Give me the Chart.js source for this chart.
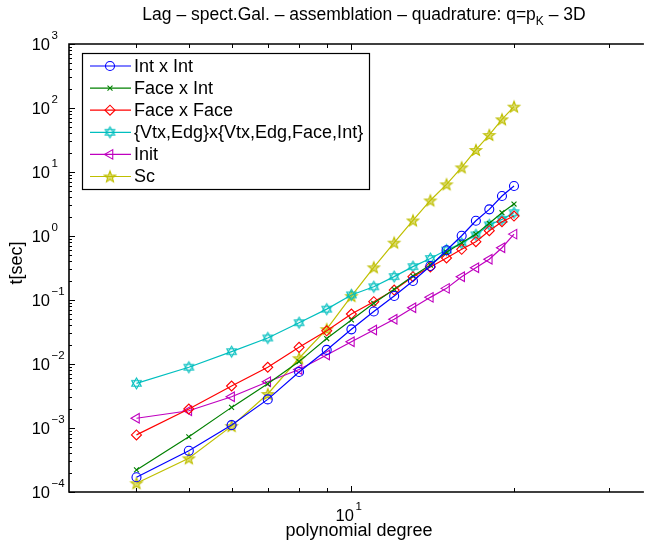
<!DOCTYPE html>
<html>
<head>
<meta charset="utf-8">
<script src="https://cdn.jsdelivr.net/npm/chart.js@4/dist/chart.umd.min.js"></script>
<style>
  html, body { margin: 0; padding: 0; background: #fff; overflow: hidden; }
  #wrap { width: 649px; height: 548px; }
</style>
</head>
<body>
<div id="wrap"><canvas id="timingChart" width="649" height="548"></canvas></div>
<script>
// polynomial degrees (x) and timings in seconds (y)
const degrees = [4, 5, 6, 7, 8, 9, 10, 11, 12, 13, 14, 15, 16, 17, 18, 19, 20];
const intInt = [1.70e-4, 4.4e-4, 1.11e-3, 2.8e-3, 7.5e-3, 1.66e-2, 3.48e-2, 6.6e-2, 0.1155, 0.198, 0.34, 0.60, 1.01, 1.73, 2.61, 4.22, 6.04];
const faceInt = [2.21e-4, 7.3e-4, 2.10e-3, 4.9e-3, 1.09e-2, 2.5e-2, 4.87e-2, 8.9e-2, 0.147, 0.237, 0.352, 0.56, 0.786, 1.07, 1.58, 2.31, 3.16];
const faceFace = [7.8e-4, 1.98e-3, 4.53e-3, 8.9e-3, 1.82e-2, 3.3e-2, 6.04e-2, 9.4e-2, 0.143, 0.231, 0.328, 0.453, 0.619, 0.815, 1.21, 1.67, 2.05];
const vtxEdg = [4.99e-3, 8.9e-3, 1.56e-2, 2.55e-2, 4.42e-2, 7.2e-2, 0.12, 0.161, 0.232, 0.332, 0.445, 0.604, 0.769, 1.04, 1.49, 1.82, 2.31];
const initT = [1.42e-3, 1.86e-3, 3.08e-3, 5.28e-3, 8.2e-3, 1.38e-2, 2.23e-2, 3.4e-2, 4.99e-2, 7.58e-2, 0.110, 0.152, 0.231, 0.320, 0.433, 0.656, 1.07];
const scT = [1.37e-4, 3.36e-4, 1.07e-3, 3.4e-3, 1.23e-2, 3.5e-2, 0.115, 0.324, 0.787, 1.75, 3.59, 6.42, 11.8, 22.1, 37.9, 66.5, 105];

const yDecades = [-4, -3, -2, -1, 0, 1, 2, 3];
const xMinorTicks = [4, 5, 6, 7, 8, 9, 20, 30];
const xMajorTicks = [10];

const FONT = '"Liberation Sans", Arial, Helvetica, sans-serif';

// hexagram marker (two triangles)
function makeHexagram(color, r) {
    const size = Math.ceil(2 * r + 4);
    const c = document.createElement('canvas');
    c.width = size; c.height = size;
    const g = c.getContext('2d');
    const cx = size / 2, cy = size / 2;
    g.strokeStyle = color;
    g.lineWidth = 1.1;
    for (let t = 0; t < 2; t++) {
        g.beginPath();
        for (let i = 0; i < 3; i++) {
            const a = -Math.PI / 2 + t * Math.PI + i * 2 * Math.PI / 3;
            const px = cx + r * Math.cos(a), py = cy + r * Math.sin(a);
            if (i === 0) g.moveTo(px, py); else g.lineTo(px, py);
        }
        g.closePath();
        g.stroke();
    }
    return c;
}

// pentagram marker
function makePentagram(color, r) {
    const size = Math.ceil(2 * r + 4);
    const c = document.createElement('canvas');
    c.width = size; c.height = size;
    const g = c.getContext('2d');
    const cx = size / 2, cy = size / 2 + 0.5;
    g.strokeStyle = color;
    g.fillStyle = color;
    g.lineWidth = 1.1;
    g.beginPath();
    for (let i = 0; i < 10; i++) {
        const rr = i % 2 === 0 ? r : r * 0.42;
        const a = -Math.PI / 2 + i * Math.PI / 5;
        const px = cx + rr * Math.cos(a), py = cy + rr * Math.sin(a);
        if (i === 0) g.moveTo(px, py); else g.lineTo(px, py);
    }
    g.closePath();
    g.globalAlpha = 0.55;
    g.fill();
    g.globalAlpha = 1;
    g.stroke();
    return c;
}

const hexCyan = makeHexagram('#00bfbf', 5.5);
const starYellow = makePentagram('#bfbf00', 6);

function series(label, values, color, style, radius, rotation) {
    return {
        label: label,
        data: degrees.map((d, i) => ({ x: d, y: values[i] })),
        borderColor: color,
        backgroundColor: 'rgba(0,0,0,0)',
        pointBorderColor: color,
        pointBackgroundColor: 'rgba(0,0,0,0)',
        pointStyle: style,
        pointRadius: radius,
        pointRotation: rotation || 0,
        pointBorderWidth: 1.1,
        borderWidth: 1.2,
        tension: 0,
        fill: false
    };
}

const datasets = [
    series('Int x Int', intInt, '#0000ff', 'circle', 4.5),
    series('Face x Int', faceInt, '#008000', 'crossRot', 3.5),
    series('Face x Face', faceFace, '#ff0000', 'rectRot', 5),
    series('{Vtx,Edg}x{Vtx,Edg,Face,Int}', vtxEdg, '#00bfbf', hexCyan, 6),
    series('Init', initT, '#bf00bf', 'triangle', 5.5, 270),
    series('Sc', scT, '#bfbf00', starYellow, 6)
];

// text "10^e" with raised exponent
function drawPow(ctx, exp, x, y, align) {
    ctx.save();
    ctx.textBaseline = 'middle';
    ctx.fillStyle = '#000';
    const baseFont = '16.5px ' + FONT, expFont = '11.5px ' + FONT;
    ctx.font = baseFont;
    const wb = ctx.measureText('10').width;
    ctx.font = expFont;
    const es = (exp < 0 ? '\u2212' : '') + Math.abs(exp);
    const we = ctx.measureText(es).width;
    let x0;
    if (align === 'yaxis') x0 = x - wb;           // "10" ends at x
    else x0 = x - (wb + we + 1) / 2;              // centred
    ctx.textAlign = 'left';
    ctx.font = baseFont;
    ctx.fillText('10', x0, y);
    ctx.font = expFont;
    ctx.fillText(es, x0 + wb + 1.5, y - 9);
    ctx.restore();
}

const matlabAxes = {
    id: 'matlabAxes',
    afterDraw(chart) {
        const ctx = chart.ctx;
        const a = chart.chartArea;
        const xs = chart.scales.x, ys = chart.scales.y;
        ctx.save();
        ctx.strokeStyle = '#000';
        ctx.lineWidth = 1;

        // y ticks (inside, left)
        yDecades.forEach(e => {
            const py = Math.round(ys.getPixelForValue(Math.pow(10, e))) + 0.5;
            ctx.beginPath(); ctx.moveTo(a.left, py); ctx.lineTo(a.left + 6, py); ctx.stroke();
            if (e < 3) {
                for (let k = 2; k <= 9; k++) {
                    const pm = Math.round(ys.getPixelForValue(k * Math.pow(10, e))) + 0.5;
                    ctx.beginPath(); ctx.moveTo(a.left, pm); ctx.lineTo(a.left + 3, pm); ctx.stroke();
                }
            }
            drawPow(ctx, e, 50, ys.getPixelForValue(Math.pow(10, e)) + 1, 'yaxis');
        });

        // x ticks (inside, bottom and top)
        xMinorTicks.concat(xMajorTicks).forEach(v => {
            const len = xMajorTicks.includes(v) ? 6 : 4;
            const px = Math.round(xs.getPixelForValue(v)) + 0.5;
            ctx.beginPath(); ctx.moveTo(px, a.bottom); ctx.lineTo(px, a.bottom - len); ctx.stroke();
            ctx.beginPath(); ctx.moveTo(px, a.top); ctx.lineTo(px, a.top + len); ctx.stroke();
        });
        xMajorTicks.forEach(v => drawPow(ctx, 1, xs.getPixelForValue(v) - 3, 516, 'center'));

        // axes box (right side lies outside the picture)
        ctx.lineWidth = 1.6;
        ctx.beginPath();
        ctx.moveTo(a.right + 2, a.top); ctx.lineTo(a.left, a.top);
        ctx.lineTo(a.left, a.bottom); ctx.lineTo(a.right + 2, a.bottom);
        ctx.stroke();

        // axis labels
        ctx.fillStyle = '#000';
        ctx.font = '18px ' + FONT;
        ctx.textAlign = 'center';
        ctx.textBaseline = 'middle';
        ctx.fillText('polynomial degree', 359, 531);
        ctx.save();
        ctx.translate(17, 263);
        ctx.rotate(-Math.PI / 2);
        ctx.fillText('t[sec]', 0, 0);
        ctx.restore();

        // title with subscript K
        const t1 = 'Lag \u2013 spect.Gal. \u2013 assemblation \u2013 quadrature: q=p', t2 = 'K', t3 = ' \u2013 3D';
        const big = '17.5px ' + FONT, small = '12px ' + FONT;
        ctx.font = big; const w1 = ctx.measureText(t1).width, w3 = ctx.measureText(t3).width;
        ctx.font = small; const w2 = ctx.measureText(t2).width;
        let tx = 364 - (w1 + w2 + w3) / 2;
        ctx.textAlign = 'left';
        ctx.font = big; ctx.fillText(t1, tx, 15); tx += w1;
        ctx.font = small; ctx.fillText(t2, tx, 22); tx += w2;
        ctx.font = big; ctx.fillText(t3, tx, 15);

        // legend
        const lx = 82, ly = 53, lw = 287, lh = 136;
        ctx.fillStyle = '#fff';
        ctx.fillRect(lx, ly, lw, lh);
        ctx.lineWidth = 1.2;
        ctx.strokeStyle = '#000';
        ctx.strokeRect(lx + 0.5, ly + 0.5, lw, lh);
        chart.data.datasets.forEach((ds, i) => {
            const cy = 66 + i * 22.1;
            ctx.strokeStyle = ds.borderColor;
            ctx.lineWidth = 1.2;
            ctx.beginPath(); ctx.moveTo(90, cy); ctx.lineTo(131, cy); ctx.stroke();
            ctx.fillStyle = 'rgba(0,0,0,0)';
            ctx.lineWidth = 1.1;
            Chart.helpers.drawPoint(ctx, {
                pointStyle: ds.pointStyle, radius: ds.pointRadius,
                rotation: ds.pointRotation, borderWidth: 1.1
            }, 110, cy);
            ctx.fillStyle = '#000';
            ctx.font = '18px ' + FONT;
            ctx.textBaseline = 'middle';
            ctx.fillText(ds.label, 134, cy + 1);
        });
        ctx.restore();
    }
};

const timingCtx = document.getElementById('timingChart').getContext('2d');
const timingChart = new Chart(timingCtx, {
    type: 'line',
    data: { datasets: datasets },
    options: {
        responsive: false,
        animation: false,
        layout: { padding: { left: 69, top: 44, right: 1, bottom: 56 } },
        plugins: {
            legend: { display: false },
            title: { display: false },
            tooltip: { enabled: false }
        },
        scales: {
            x: { type: 'logarithmic', min: 3, max: 34.5, display: false },
            y: { type: 'logarithmic', min: 1e-4, max: 1e3, display: false }
        }
    },
    plugins: [matlabAxes]
});
</script>
</body>
</html>
